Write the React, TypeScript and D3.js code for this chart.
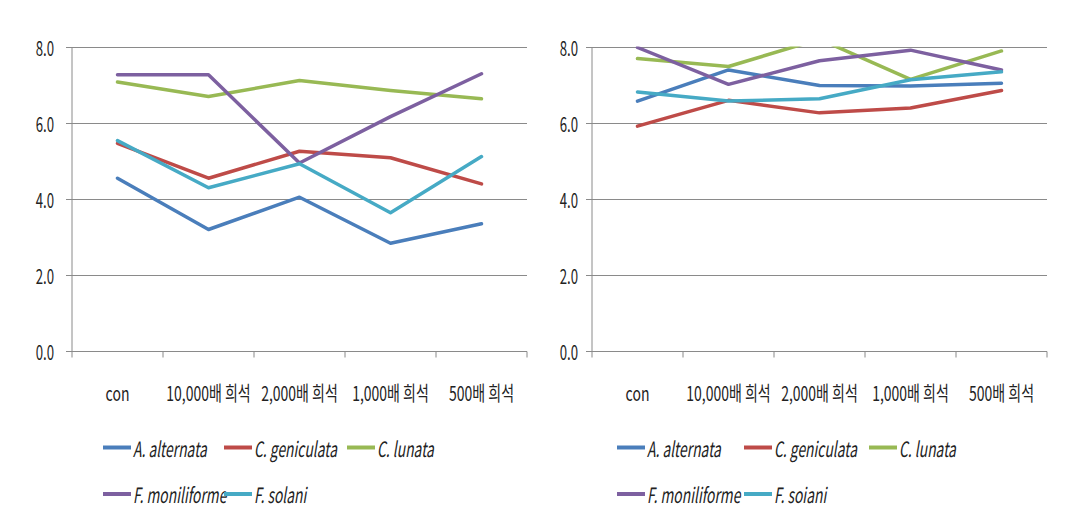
import React from "react";
import * as d3 from "d3";

const categories = ["con", "10,000배 희석", "2,000배 희석", "1,000배 희석", "500배 희석"];
const yTicks = [0, 2, 4, 6, 8];

const seriesNamesLeft = ["A. alternata", "C. geniculata", "C. lunata", "F. moniliforme", "F. solani"];
const seriesNamesRight = ["A. alternata", "C. geniculata", "C. lunata", "F. moniliforme", "F. soiani"];
const colors = ["#4A7EBB", "#BE4B48", "#98B954", "#7D60A0", "#46AAC5"];

const leftAlternata = [4.56, 3.21, 4.06, 2.85, 3.36];
const leftGeniculata = [5.48, 4.56, 5.27, 5.1, 4.41];
const leftLunata = [7.09, 6.71, 7.13, 6.87, 6.65];
const leftMoniliforme = [7.28, 7.28, 4.96, 6.18, 7.31];
const leftSolani = [5.55, 4.31, 4.94, 3.65, 5.13];

const rightAlternata = [6.59, 7.41, 7.0, 6.99, 7.06];
const rightGeniculata = [5.93, 6.61, 6.28, 6.41, 6.87];
const rightLunata = [7.71, 7.5, 8.22, 7.16, 7.91];
const rightMoniliforme = [8.0, 7.03, 7.65, 7.93, 7.41];
const rightSolani = [6.83, 6.59, 6.65, 7.15, 7.36];

const leftSeries = [leftAlternata, leftGeniculata, leftLunata, leftMoniliforme, leftSolani];
const rightSeries = [rightAlternata, rightGeniculata, rightLunata, rightMoniliforme, rightSolani];

const FONT = "'Noto Sans CJK KR', 'Noto Sans', sans-serif";

function SText(props: {
  x: number; y: number; sx?: number; size: number; anchor?: string; italic?: boolean; children: any; fill?: string;
}) {
  const { x, y, sx = 0.7, size, anchor = "start", italic = false, children, fill = "#222" } = props;
  return (
    <text
      transform={`translate(${x},${y}) scale(${sx},1)`}
      fontFamily={FONT}
      fontSize={size}
      fontStyle={italic ? "italic" : "normal"}
      textAnchor={anchor}
      dominantBaseline="central"
      fill={fill}
    >
      {children}
    </text>
  );
}

function Panel(props: {
  ox: number; series: number[][]; names: string[]; id: string; labelGap: number; legendOffsets: number[];
}) {
  const { ox, series, names, id, labelGap, legendOffsets } = props;
  const x0 = ox + 72;
  const x1 = ox + 527;
  const yTop = 47.5;
  const yBot = 351.5;
  const band = d3.scaleBand<string>().domain(categories).range([x0, x1]).paddingInner(0).paddingOuter(0);
  const y = d3.scaleLinear().domain([0, 8]).range([yBot, yTop]);
  const line = d3
    .line<number>()
    .x((_, i) => (band(categories[i]) as number) + band.bandwidth() / 2)
    .y((v) => y(v));
  const gridColor = "#8a8a8a";
  const tickPositions = categories.map((c) => band(c) as number).concat([x1]);

  const legendRows = [
    [0, 1, 2],
    [3, 4],
  ];
  const legendX = legendOffsets.map((o) => ox + o);
  const legendY = [447.5, 494];

  return (
    <g>
      <defs>
        <clipPath id={id}>
          <rect x={x0} y={yTop - 1} width={x1 - x0} height={yBot - yTop + 10} />
        </clipPath>
      </defs>
      {yTicks.map((t) => (
        <g key={t}>
          <line x1={x0 - 6} x2={x1} y1={y(t)} y2={y(t)} stroke={gridColor} strokeWidth={1} />
          <SText x={x0 - labelGap} y={y(t)} size={20} anchor="end" sx={0.66}>
            {t.toFixed(1)}
          </SText>
        </g>
      ))}
      <line x1={x0} x2={x0} y1={yTop} y2={yBot} stroke={gridColor} strokeWidth={1} />
      {tickPositions.map((tx, i) => (
        <line key={i} x1={tx} x2={tx} y1={yBot} y2={yBot + 6} stroke={gridColor} strokeWidth={1} />
      ))}
      {categories.map((c) => (
        <SText key={c} x={(band(c) as number) + band.bandwidth() / 2} y={392} size={20} anchor="middle" sx={0.7}>
          {c}
        </SText>
      ))}
      <g clipPath={`url(#${id})`}>
        {series.map((s, i) => (
          <path
            key={i}
            d={line(s) as string}
            fill="none"
            stroke={colors[i]}
            strokeWidth={3.5}
            strokeLinejoin="round"
            strokeLinecap="round"
          />
        ))}
      </g>
      {legendRows.map((row, r) =>
        row.map((si, c) => (
          <g key={si}>
            <line
              x1={legendX[c]}
              x2={legendX[c] + 28}
              y1={legendY[r]}
              y2={legendY[r]}
              stroke={colors[si]}
              strokeWidth={4}
            />
            <SText x={legendX[c] + 30} y={legendY[r]} size={21} italic sx={0.66}>
              {names[si]}
            </SText>
          </g>
        ))
      )}
    </g>
  );
}

export default function App() {
  return (
    <svg width={1071} height={524} style={{ position: "absolute", left: 0, top: 0, background: "#fff" }}>
      <rect x={0} y={0} width={1071} height={524} fill="#fff" />
      <Panel ox={0} series={leftSeries} names={seriesNamesLeft} id="clipL" labelGap={18} legendOffsets={[103, 224, 347]} />
      <Panel ox={520} series={rightSeries} names={seriesNamesRight} id="clipR" labelGap={14} legendOffsets={[97, 224, 349]} />
    </svg>
  );
}
